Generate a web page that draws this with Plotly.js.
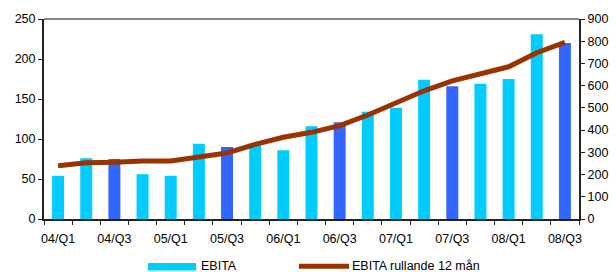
<!DOCTYPE html>
<html>
<head>
<meta charset="utf-8">
<script src="https://cdn.plot.ly/plotly-3.0.1.min.js"></script>
<style>html,body{margin:0;padding:0;background:#fff;}#chart{width:616px;height:272px;}</style>
</head>
<body>
<div id="chart"></div>
<script>
const categories = ["04/Q1","04/Q2","04/Q3","04/Q4","05/Q1","05/Q2","05/Q3","05/Q4","06/Q1","06/Q2","06/Q3","06/Q4","07/Q1","07/Q2","07/Q3","07/Q4","08/Q1","08/Q2","08/Q3"];
const tickLabels = ["04/Q1","","04/Q3","","05/Q1","","05/Q3","","06/Q1","","06/Q3","","07/Q1","","07/Q3","","08/Q1","","08/Q3"];
const ebita = [54,76,75,56,54,94,90,94,86,116,121,134,139,174,166,169,175,231,220];
const ebitaRolling = [240,253,255,261,261,278,297,336,368,390,420,468,520,577,622,652,685,748,795];
const seriesNames = ["EBITA","EBITA rullande 12 mån"];

const cyan = "#00CCFF", blue = "#3366FF", brown = "#993300";
const barColors = categories.map(c => c.endsWith("Q3") ? blue : cyan);
const font = {family: "Liberation Sans, Arial, sans-serif", size: 12.5, color: "#000"};

const traces = [
  {type: "bar", x: categories, y: ebita, name: seriesNames[0], marker: {color: barColors}, yaxis: "y", showlegend: false},
  {type: "scatter", mode: "lines", x: categories, y: ebitaRolling, name: seriesNames[1], yaxis: "y2", line: {color: brown, width: 5}, showlegend: false}
];

const layout = {
  width: 616, height: 272,
  margin: {l: 44, r: 37, t: 19, b: 52.5},
  paper_bgcolor: "#fff", plot_bgcolor: "#fff",
  font: font,
  bargap: 0.575,
  showlegend: false,
  xaxis: {
    type: "category", tickmode: "array", tickvals: categories, ticktext: tickLabels,
    tickson: "boundaries", ticks: "outside", ticklen: 4, tickwidth: 1, tickcolor: "#222",
    showline: true, linecolor: "#222", linewidth: 2, showgrid: false, zeroline: false,
    tickfont: font, tickangle: 0, ticklabelstandoff: 7
  },
  yaxis: {
    range: [0, 250], dtick: 50, ticks: "outside", ticklen: 4, tickcolor: "#222",
    showline: true, linecolor: "#222", linewidth: 2, showgrid: false, zeroline: false,
    tickfont: font
  },
  yaxis2: {
    range: [0, 900], dtick: 100, overlaying: "y", side: "right", ticks: "outside", ticklen: 4, tickcolor: "#222",
    showline: true, linecolor: "#222", linewidth: 2, showgrid: false, zeroline: false,
    tickfont: font
  },
  shapes: [
    {type: "line", xref: "paper", yref: "paper", x0: 0, x1: 1, y0: 1, y1: 1, line: {color: "#888", width: 2}},
    {type: "rect", xref: "paper", yref: "paper", x0: (148-44)/535, x1: (196-44)/535, y0: -0.257, y1: -0.22, fillcolor: cyan, line: {width: 0}},
    {type: "line", xref: "paper", yref: "paper", x0: (299-44)/535, x1: (349-44)/535, y0: -0.236, y1: -0.236, line: {color: brown, width: 5}}
  ],
  annotations: [
    {xref: "paper", yref: "paper", x: (199-44)/535, y: -0.236, xanchor: "left", yanchor: "middle", text: seriesNames[0], showarrow: false, font: font},
    {xref: "paper", yref: "paper", x: (350-44)/535, y: -0.236, xanchor: "left", yanchor: "middle", text: seriesNames[1], showarrow: false, font: font}
  ]
};

Plotly.newPlot("chart", traces, layout, {displayModeBar: false, staticPlot: true});
</script>
</body>
</html>
